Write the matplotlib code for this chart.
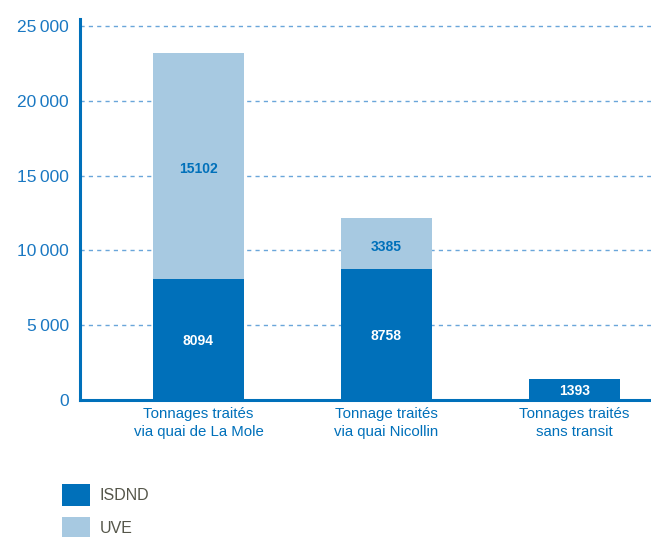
import numpy as np
import matplotlib
matplotlib.use('Agg')
import matplotlib.pyplot as plt
from matplotlib.patches import Patch

plt.rcParams['font.family'] = ['Liberation Sans', 'DejaVu Sans']

# data
categories = ['Tonnages traités\nvia quai de La Mole',
              'Tonnage traités\nvia quai Nicollin',
              'Tonnages traités\nsans transit']
isdnd = [8094, 8758, 1393]
uve = [15102, 3385, 0]
yticks = [0, 5000, 10000, 15000, 20000, 25000]
ytick_labels = ['0', '5\u2009000', '10\u2009000', '15\u2009000', '20\u2009000', '25\u2009000']

dark = '#0070BA'
light = '#A7C9E1'

fig = plt.figure(figsize=(6.51, 5.37), dpi=100)
ax = fig.add_axes([80 / 651, 1 - 400 / 537, 1 - 80 / 651, (400 - 19) / 537])

x = np.arange(len(categories))
ax.bar(x, isdnd, width=0.485, color=dark, zorder=3)
ax.bar(x, uve, width=0.485, bottom=isdnd, color=light, zorder=3)

# value labels in the middle of each segment
for i in range(len(x)):
    ax.text(x[i], isdnd[i] / 2 - 100, str(isdnd[i]), ha='center', va='center',
            color='white', fontsize=10, fontweight='bold', zorder=4)
    if uve[i] > 0:
        ax.text(x[i], isdnd[i] + uve[i] / 2 - 200, str(uve[i]), ha='center', va='center',
                color=dark, fontsize=10, fontweight='bold', zorder=4)

ax.set_xlim(-0.63, 2.407)
ax.set_ylim(0, 25470)
ax.set_yticks(yticks)
ax.set_yticklabels(ytick_labels, color='#1A78C2', fontsize=12.5)
ax.set_xticks(x)
ax.set_xticklabels(categories, color=dark, fontsize=10.8, linespacing=1.4)
ax.tick_params(axis='both', length=0)
ax.tick_params(axis='y', pad=8)
ax.tick_params(axis='x', pad=5)

ax.yaxis.grid(True, linestyle=(0, (3, 3)), color='#6AA6DA', linewidth=1, zorder=0)
for s in ['top', 'right']:
    ax.spines[s].set_visible(False)
ax.spines['left'].set_color(dark)
ax.spines['left'].set_linewidth(2.2)
ax.spines['bottom'].set_color(dark)
ax.spines['bottom'].set_linewidth(2.2)

handles = [Patch(facecolor=dark, label='ISDND'), Patch(facecolor=light, label='UVE')]
leg = fig.legend(handles=handles, loc='upper left', bbox_to_anchor=(0.085, 0.11),
                 frameon=False, handlelength=1.75, handleheight=1.7,
                 labelspacing=0.72, handletextpad=0.6, borderaxespad=0,
                 prop={'size': 11.5})
for t in leg.get_texts():
    t.set_color('#55564A')

fig.savefig('out.png', dpi=100)
